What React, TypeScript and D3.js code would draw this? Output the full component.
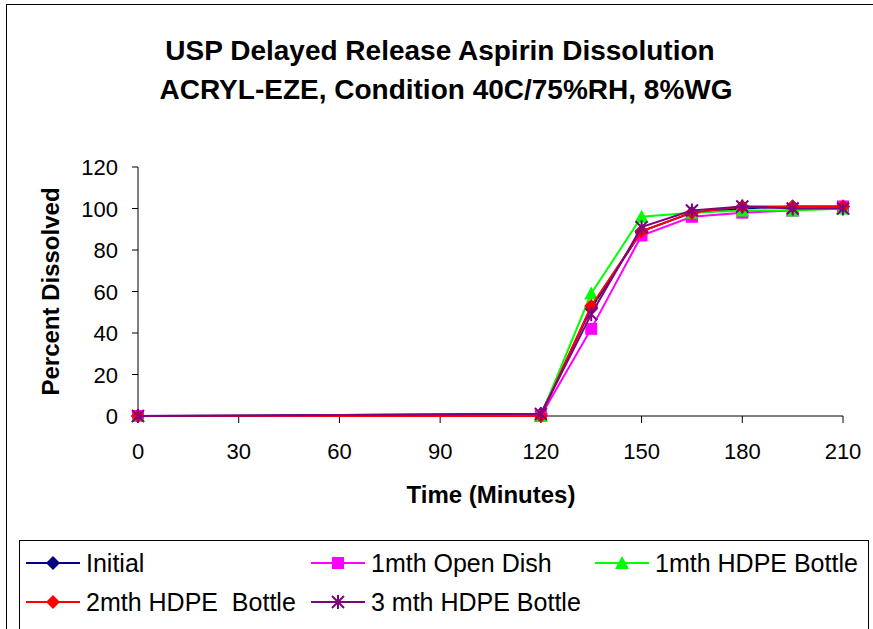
import React from 'react'
import * as d3 from 'd3'

const times = [0, 120, 135, 150, 165, 180, 195, 210]
const seriesNames = ['Initial', '1mth Open Dish', '1mth HDPE Bottle', '2mth HDPE  Bottle', '3 mth HDPE Bottle']
const initial = [0, 1, 52, 89, 98, 100, 101, 101]
const openDish = [0, 0, 42, 87, 96, 98, 99, 101]
const hdpe1 = [0, 0, 59, 96, 98, 99, 99, 100]
const hdpe2 = [0, 0, 53, 89, 98, 101, 101, 101]
const hdpe3 = [0, 1, 49, 91, 99, 101, 100, 100]
const xTicks = [0, 30, 60, 90, 120, 150, 180, 210]
const yTicks = [0, 20, 40, 60, 80, 100, 120]

const colors = ['#000080', '#ff00ff', '#00ff00', '#ff0000', '#800080']
const markers = ['diamond', 'square', 'triangle', 'diamond', 'star']
const allValues = [initial, openDish, hdpe1, hdpe2, hdpe3]

const font = 'Arial, "Liberation Sans", sans-serif'

const Marker = ({ type, x, y, color }: { type: string; x: number; y: number; color: string }) => {
  if (type === 'diamond') {
    return <path d={`M${x},${y - 7}L${x + 7},${y}L${x},${y + 7}L${x - 7},${y}Z`} fill={color} />
  }
  if (type === 'square') {
    return <rect x={x - 6} y={y - 6} width={12} height={12} fill={color} />
  }
  if (type === 'triangle') {
    return <path d={`M${x},${y - 7}L${x + 7},${y + 6}L${x - 7},${y + 6}Z`} fill={color} />
  }
  // star: x plus vertical bar
  return (
    <path
      d={`M${x - 6},${y - 6}L${x + 6},${y + 6}M${x - 6},${y + 6}L${x + 6},${y - 6}M${x},${y - 7}L${x},${y + 7}`}
      stroke={color}
      strokeWidth={2}
      fill="none"
    />
  )
}

const App = () => {
  const width = 873
  const height = 629

  const x = d3.scaleLinear().domain([0, 210]).range([138, 843])
  const y = d3.scaleLinear().domain([0, 120]).range([416, 167])

  const line = d3
    .line<number>()
    .x((d, i) => x(times[i]))
    .y(d => y(d))

  const legendPos = [
    [26, 563],
    [311, 563],
    [595, 563],
    [26, 602],
    [311, 602],
  ]

  return (
    <svg width={width} height={height} style={{ position: 'absolute', left: 0, top: 0 }} fontFamily={font}>
      <rect x={0} y={0} width={width} height={height} fill="#fff" />
      <rect x={6.5} y={4.5} width={880} height={640} fill="none" stroke="#000" strokeWidth={1} />

      <text x={440} y={60} textAnchor="middle" fontSize={28} fontWeight="bold">
        USP Delayed Release Aspirin Dissolution
      </text>
      <text x={446} y={99} textAnchor="middle" fontSize={28} fontWeight="bold">
        ACRYL-EZE, Condition 40C/75%RH, 8%WG
      </text>

      {/* axes */}
      <line x1={x(0)} x2={x(0)} y1={y(120)} y2={y(0)} stroke="#000" />
      {yTicks.map(t => (
        <g key={t}>
          <line x1={x(0) - 6} x2={x(0)} y1={y(t)} y2={y(t)} stroke="#000" />
          <text x={118} y={y(t) + 8} textAnchor="end" fontSize={22}>
            {t}
          </text>
        </g>
      ))}
      <line x1={x(0)} x2={x(210)} y1={y(0)} y2={y(0)} stroke="#000" />
      {xTicks.map(t => (
        <g key={t}>
          <line x1={x(t)} x2={x(t)} y1={y(0)} y2={y(0) + 7} stroke="#000" />
          <text x={x(t)} y={459} textAnchor="middle" fontSize={22}>
            {t}
          </text>
        </g>
      ))}
      <text x={491} y={503} textAnchor="middle" fontSize={24} fontWeight="bold">
        Time (Minutes)
      </text>
      <text
        transform={`translate(59, ${y(60)}) rotate(-90)`}
        textAnchor="middle"
        fontSize={24}
        fontWeight="bold"
      >
        Percent Dissolved
      </text>

      {allValues.map((vals, si) => (
        <g key={si}>
          <path d={line(vals) || ''} fill="none" stroke={colors[si]} strokeWidth={2} />
          {vals.map((v, i) => (
            <Marker key={i} type={markers[si]} x={x(times[i])} y={y(v)} color={colors[si]} />
          ))}
        </g>
      ))}

      {/* legend */}
      <rect x={19.5} y={540.5} width={849} height={100} fill="#fff" stroke="#000" />
      {seriesNames.map((name, i) => {
        const [lx, ly] = legendPos[i]
        return (
          <g key={name}>
            <line x1={lx} x2={lx + 54} y1={ly} y2={ly} stroke={colors[i]} strokeWidth={2} />
            <Marker type={markers[i]} x={lx + 27} y={ly} color={colors[i]} />
            <text x={lx + 60} y={ly + 9} fontSize={25} style={{ whiteSpace: 'pre' }}>
              {name}
            </text>
          </g>
        )
      })}
    </svg>
  )
}

export default App
